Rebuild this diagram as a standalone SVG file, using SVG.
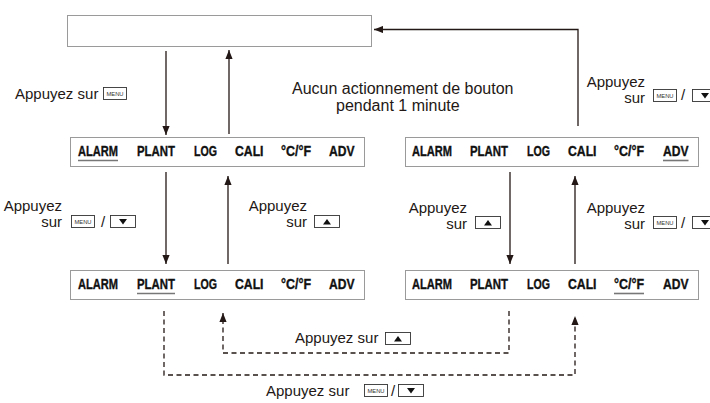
<svg xmlns="http://www.w3.org/2000/svg" xmlns:xlink="http://www.w3.org/1999/xlink" width="710" height="403" viewBox="0 0 710 403">
<style>
.lbl{font-family:"Liberation Sans",Arial,sans-serif;font-size:15px;fill:#231815}
.ctr{font-size:16px}
.mode{font-family:"Liberation Sans",Arial,sans-serif;font-weight:bold;font-size:14.5px;fill:#111;stroke:#111;stroke-width:0.35}
.box{fill:#fff;stroke:#9a9a9a;stroke-width:1}
.ul{stroke:#777;stroke-width:1.6}
.conn{fill:none;stroke:#231815;stroke-width:1.3}
.dash{stroke-dasharray:5 3.5}
.btn{fill:#fff;stroke:#333;stroke-width:0.9}
.menu{font-family:"Liberation Sans",Arial,sans-serif;font-size:5.8px;fill:#333}
</style>
<defs>
<marker id="ah" viewBox="0 0 10 8" refX="10" refY="4" markerWidth="9" markerHeight="7.5" markerUnits="userSpaceOnUse" orient="auto"><path d="M0,0 L10,4 L0,8 z" fill="#231815"/></marker>
<g id="bMenu"><rect class="btn" x="0.5" y="0.5" width="23" height="12"/><text class="menu" x="12" y="8.7" text-anchor="middle">MENU</text></g>
<g id="bDown"><rect class="btn" x="0.5" y="0.5" width="25" height="12"/><path d="M9,4 L17,4 L13,9.5 z" fill="#111"/></g>
<g id="bUp"><rect class="btn" x="0.5" y="0.5" width="25" height="12"/><path d="M9,9.5 L17,9.5 L13,4 z" fill="#111"/></g>
</defs>
<rect width="710" height="403" fill="#fff"/>

<g id="display">
<rect class="box" x="67.5" y="15.5" width="304" height="31"/>
</g>

<g id="row1-alarm">
<rect class="box" x="70.5" y="137.5" width="294" height="29"/>
<text class="mode" x="78" y="156" textLength="40" lengthAdjust="spacingAndGlyphs">ALARM</text>
<text class="mode" x="137" y="156" textLength="38" lengthAdjust="spacingAndGlyphs">PLANT</text>
<text class="mode" x="194" y="156" textLength="23" lengthAdjust="spacingAndGlyphs">LOG</text>
<text class="mode" x="235" y="156" textLength="28.5" lengthAdjust="spacingAndGlyphs">CALI</text>
<text class="mode" x="281" y="156" textLength="30" lengthAdjust="spacingAndGlyphs">°C/°F</text>
<text class="mode" x="329" y="156" textLength="25.5" lengthAdjust="spacingAndGlyphs">ADV</text>
<line class="ul" x1="78" y1="160.5" x2="118" y2="160.5"/>
</g>

<g id="row1-adv">
<rect class="box" x="405.5" y="137.5" width="293" height="29"/>
<text class="mode" x="412" y="156" textLength="40" lengthAdjust="spacingAndGlyphs">ALARM</text>
<text class="mode" x="470" y="156" textLength="38" lengthAdjust="spacingAndGlyphs">PLANT</text>
<text class="mode" x="527" y="156" textLength="23" lengthAdjust="spacingAndGlyphs">LOG</text>
<text class="mode" x="568" y="156" textLength="28.5" lengthAdjust="spacingAndGlyphs">CALI</text>
<text class="mode" x="614" y="156" textLength="30" lengthAdjust="spacingAndGlyphs">°C/°F</text>
<text class="mode" x="663" y="156" textLength="25.5" lengthAdjust="spacingAndGlyphs">ADV</text>
<line class="ul" x1="663" y1="160.5" x2="688.5" y2="160.5"/>
</g>

<g id="row2-plant">
<rect class="box" x="70.5" y="270.5" width="294" height="29"/>
<text class="mode" x="78" y="289" textLength="40" lengthAdjust="spacingAndGlyphs">ALARM</text>
<text class="mode" x="137" y="289" textLength="38" lengthAdjust="spacingAndGlyphs">PLANT</text>
<text class="mode" x="194" y="289" textLength="23" lengthAdjust="spacingAndGlyphs">LOG</text>
<text class="mode" x="235" y="289" textLength="28.5" lengthAdjust="spacingAndGlyphs">CALI</text>
<text class="mode" x="281" y="289" textLength="30" lengthAdjust="spacingAndGlyphs">°C/°F</text>
<text class="mode" x="329" y="289" textLength="25.5" lengthAdjust="spacingAndGlyphs">ADV</text>
<line class="ul" x1="137" y1="293.5" x2="175" y2="293.5"/>
</g>

<g id="row2-unit">
<rect class="box" x="405.5" y="270.5" width="293" height="29"/>
<text class="mode" x="412" y="289" textLength="40" lengthAdjust="spacingAndGlyphs">ALARM</text>
<text class="mode" x="470" y="289" textLength="38" lengthAdjust="spacingAndGlyphs">PLANT</text>
<text class="mode" x="527" y="289" textLength="23" lengthAdjust="spacingAndGlyphs">LOG</text>
<text class="mode" x="568" y="289" textLength="28.5" lengthAdjust="spacingAndGlyphs">CALI</text>
<text class="mode" x="614" y="289" textLength="30" lengthAdjust="spacingAndGlyphs">°C/°F</text>
<text class="mode" x="663" y="289" textLength="25.5" lengthAdjust="spacingAndGlyphs">ADV</text>
<line class="ul" x1="614" y1="293.5" x2="644" y2="293.5"/>
</g>

<g id="connectors">
<path class="conn" d="M166,51 V135" marker-end="url(#ah)"/>
<path class="conn" d="M229,134 V50" marker-end="url(#ah)"/>
<path class="conn" d="M578,126 V29.5 H374" marker-end="url(#ah)"/>
<path class="conn" d="M166,172 V264" marker-end="url(#ah)"/>
<path class="conn" d="M228,264 V176" marker-end="url(#ah)"/>
<path class="conn" d="M510,172 V264" marker-end="url(#ah)"/>
<path class="conn" d="M575,264 V176" marker-end="url(#ah)"/>
<path class="conn dash" d="M509,311 V353 H223 V313" marker-end="url(#ah)"/>
<path class="conn dash" d="M164,311 V375 H575 V316" marker-end="url(#ah)"/>
</g>

<g id="labels">
<text class="lbl" x="15" y="99">Appuyez sur</text>
<use xlink:href="#bMenu" href="#bMenu" x="103" y="87"/>

<text class="lbl ctr" x="292" y="94">Aucun actionnement de bouton</text>
<text class="lbl ctr" x="336" y="111">pendant 1 minute</text>

<text class="lbl" x="645" y="87" text-anchor="end">Appuyez</text>
<text class="lbl" x="645" y="103" text-anchor="end">sur</text>
<use xlink:href="#bMenu" href="#bMenu" x="653" y="89"/>
<text class="lbl" x="681" y="100">/</text>
<use xlink:href="#bDown" href="#bDown" x="692" y="89"/>

<text class="lbl" x="62" y="211" text-anchor="end">Appuyez</text>
<text class="lbl" x="62" y="227" text-anchor="end">sur</text>
<use xlink:href="#bMenu" href="#bMenu" x="71" y="215"/>
<text class="lbl" x="101" y="227">/</text>
<use xlink:href="#bDown" href="#bDown" x="110" y="215"/>

<text class="lbl" x="307" y="211" text-anchor="end">Appuyez</text>
<text class="lbl" x="307" y="227" text-anchor="end">sur</text>
<use xlink:href="#bUp" href="#bUp" x="314" y="215"/>

<text class="lbl" x="467" y="213" text-anchor="end">Appuyez</text>
<text class="lbl" x="467" y="229" text-anchor="end">sur</text>
<use xlink:href="#bUp" href="#bUp" x="475" y="216"/>

<text class="lbl" x="645" y="213" text-anchor="end">Appuyez</text>
<text class="lbl" x="645" y="229" text-anchor="end">sur</text>
<use xlink:href="#bMenu" href="#bMenu" x="653" y="216"/>
<text class="lbl" x="681" y="228">/</text>
<use xlink:href="#bDown" href="#bDown" x="692" y="216"/>

<text class="lbl" x="295" y="343">Appuyez sur</text>
<use xlink:href="#bUp" href="#bUp" x="385" y="332"/>

<text class="lbl" x="266" y="396">Appuyez sur</text>
<use xlink:href="#bMenu" href="#bMenu" x="364" y="384"/>
<text class="lbl" x="391" y="396">/</text>
<use xlink:href="#bDown" href="#bDown" x="398" y="384"/>
</g>
</svg>
